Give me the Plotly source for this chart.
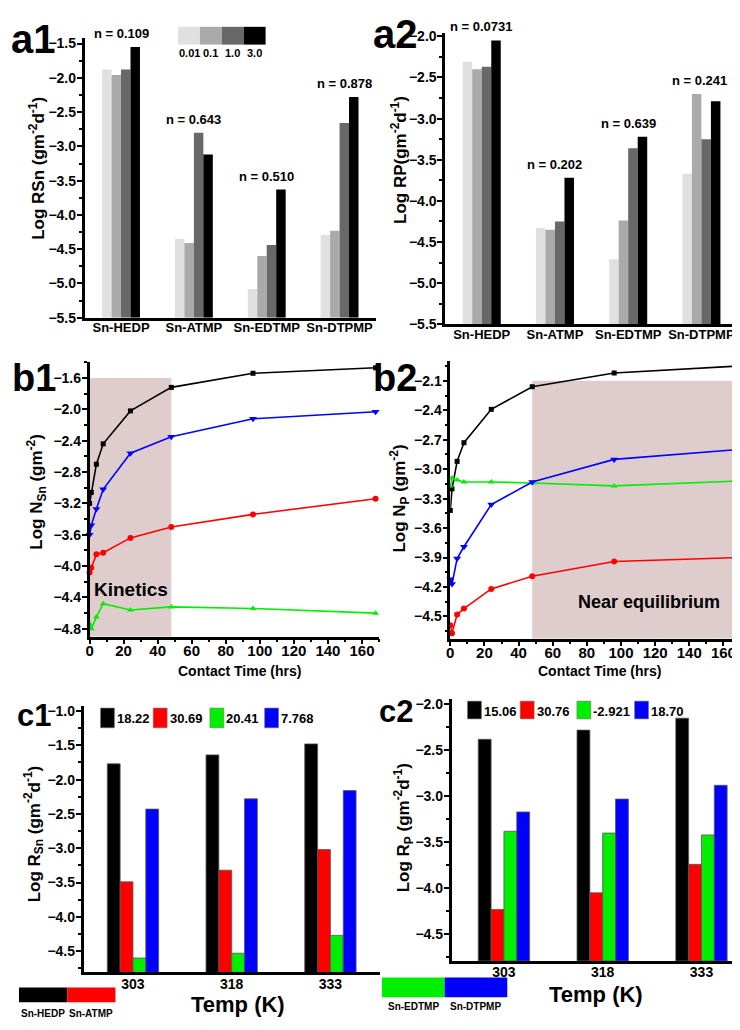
import plotly.graph_objects as go

# The page body has an 8px margin, so the figure is drawn 8px in from the
# top-left corner; reference pixel coordinates are mapped accordingly.
OFF = 8
W, H = 740 - OFF, 1030 - OFF


def px(x):
    return (x - OFF) / W


def py(y):
    return 1 - (y - OFF) / H


FONT = "Liberation Sans Narrow, Liberation Sans, Arial, sans-serif"


def F(size, color="black"):
    return dict(family=FONT, size=size, color=color, weight="bold")


# ---------------- data ----------------
ligands = ["Sn-HEDP", "Sn-ATMP", "Sn-EDTMP", "Sn-DTPMP"]
conc_labels = ["0.01", "0.1", "1.0", "3.0"]
a1_c001 = [-1.88, -4.35, -5.08, -4.29]
a1_c01 = [-1.96, -4.41, -4.60, -4.23]
a1_c1 = [-1.88, -2.80, -4.44, -2.66]
a1_c3 = [-1.55, -3.12, -3.63, -2.28]
a1_n = ["n = 0.109", "n = 0.643", "n = 0.510", "n = 0.878"]
a2_c001 = [-2.31, -4.33, -4.71, -3.67]
a2_c01 = [-2.40, -4.35, -4.24, -2.70]
a2_c1 = [-2.37, -4.25, -3.36, -3.25]
a2_c3 = [-2.05, -3.72, -3.22, -2.79]
a2_n = ["n = 0.0731", "n = 0.202", "n = 0.639", "n = 0.241"]

time_h = [0, 1, 4, 8, 24, 48, 96, 168]
b1_hedp = [-3.20, -3.06, -2.70, -2.44, -2.02, -1.72, -1.54, -1.47]
b1_atmp = [-4.08, -4.02, -3.85, -3.83, -3.64, -3.50, -3.34, -3.14]
b1_edtmp = [-4.74, -4.80, -4.65, -4.48, -4.56, -4.52, -4.54, -4.60]
b1_dtpmp = [-3.60, -3.48, -3.27, -3.02, -2.56, -2.35, -2.12, -2.03]
b2_hedp = [-3.42, -3.20, -2.92, -2.73, -2.39, -2.16, -2.02, -1.95]
b2_atmp = [-4.59, -4.67, -4.48, -4.42, -4.22, -4.09, -3.94, -3.90]
b2_edtmp = [-3.17, -3.09, -3.11, -3.13, -3.13, -3.14, -3.17, -3.12]
b2_dtpmp = [-4.12, -4.17, -3.91, -3.79, -3.36, -3.13, -2.90, -2.80]
kinetic_window = [0, 48]
equil_window = [48, 170]

temps = ["303", "318", "333"]
c1_hedp = [-1.77, -1.64, -1.48]
c1_atmp = [-3.49, -3.32, -3.02]
c1_edtmp = [-4.60, -4.53, -4.27]
c1_dtpmp = [-2.43, -2.28, -2.16]
c1_ea = ["18.22", "30.69", "20.41", "7.768"]
c2_hedp = [-2.38, -2.28, -2.15]
c2_atmp = [-4.23, -4.05, -3.74]
c2_edtmp = [-3.38, -3.40, -3.42]
c2_dtpmp = [-3.17, -3.03, -2.88]
c2_ea = ["15.06", "30.76", "-2.921", "18.70"]

GRAYS = ["#e0e0e0", "#aaaaaa", "#686868", "#000000"]
SERIES_COL = {"hedp": "#000000", "atmp": "#ff0000", "edtmp": "#00ee00", "dtpmp": "#0000ff"}

A_BASE = -5.5
C1_BASE = -4.81
C2_BASE = -4.79

fig = go.Figure()

# ---------- a panels ----------
for xa, ya, series in [
    ("x", "y", [a1_c001, a1_c01, a1_c1, a1_c3]),
    ("x2", "y2", [a2_c001, a2_c01, a2_c1, a2_c3]),
]:
    for vals, col, name in zip(series, GRAYS, conc_labels):
        fig.add_trace(go.Bar(x=ligands, y=[v - A_BASE for v in vals], base=A_BASE,
                             marker=dict(color=col, line=dict(width=0)),
                             name=name, xaxis=xa, yaxis=ya, showlegend=False))


# ---------- b panels ----------
def add_line(t, v, key, sym, size, xa, ya):
    fig.add_trace(go.Scatter(x=t, y=v, mode="lines+markers",
                             line=dict(color=SERIES_COL[key], width=1.6),
                             marker=dict(symbol=sym, size=size, color=SERIES_COL[key]),
                             xaxis=xa, yaxis=ya, showlegend=False, cliponaxis=False))


for (h, a, e, d, xa, ya) in [
    (b1_hedp, b1_atmp, b1_edtmp, b1_dtpmp, "x3", "y3"),
    (b2_hedp, b2_atmp, b2_edtmp, b2_dtpmp, "x4", "y4"),
]:
    add_line(time_h, h, "hedp", "square", 5, xa, ya)
    add_line(time_h, a, "atmp", "circle", 6, xa, ya)
    add_line(time_h, e, "edtmp", "triangle-up", 6, xa, ya)
    add_line(time_h, d, "dtpmp", "triangle-down", 7, xa, ya)

# ---------- c panels ----------
for xa, ya, base, series in [
    ("x5", "y5", C1_BASE, [c1_hedp, c1_atmp, c1_edtmp, c1_dtpmp]),
    ("x6", "y6", C2_BASE, [c2_hedp, c2_atmp, c2_edtmp, c2_dtpmp]),
]:
    for vals, key in zip(series, ["hedp", "atmp", "edtmp", "dtpmp"]):
        fig.add_trace(go.Bar(x=temps, y=[v - base for v in vals], base=base,
                             marker=dict(color=SERIES_COL[key], line=dict(width=0.8, color="#555555")),
                             xaxis=xa, yaxis=ya, showlegend=False))


# ---------- axes ----------
def yax(dom, rng, tick0, dtick, mdtick, anchor):
    return dict(domain=dom, range=rng, tick0=tick0, dtick=dtick, anchor=anchor, tickformat=".1f",
                showgrid=False, zeroline=False,
                showline=True, linewidth=2.5, linecolor="black", ticks="outside", ticklen=5,
                tickwidth=2, tickcolor="black", tickfont=F(14), ticklabelstandoff=-2,
                minor=dict(ticks="outside", ticklen=3, tickwidth=1.5, tickcolor="black",
                           tick0=tick0, dtick=mdtick, showgrid=False))


def xcat(dom, rng, anchor, size, standoff):
    return dict(domain=dom, range=rng, anchor=anchor, type="category", showgrid=False,
                zeroline=False, showline=True, linewidth=2.5, linecolor="black", ticks="",
                ticklen=0, tickfont=F(size), ticklabelstandoff=standoff)


def xlin(dom, rng, anchor):
    return dict(domain=dom, range=rng, anchor=anchor, showgrid=False, zeroline=False,
                showline=True, linewidth=2.5, linecolor="black", ticks="outside", ticklen=5,
                tickwidth=2, tickcolor="black", tick0=0, dtick=20, tickfont=F(15),
                ticklabelstandoff=-6,
                minor=dict(ticks="outside", ticklen=3, tickwidth=1.5, tickcolor="black",
                           dtick=10, showgrid=False))


layout = dict(
    width=W, height=H, autosize=False,
    margin=dict(l=0, r=0, t=0, b=0),
    paper_bgcolor="white", plot_bgcolor="rgba(0,0,0,0)",
    barmode="group", bargap=0.48, bargroupgap=0,
    showlegend=False,
    font=dict(family=FONT, color="black"),
)
layout["xaxis"] = xcat([px(81), px(374)], [-0.5, 3.5], "y", 13, -4)
layout["yaxis"] = yax([py(316.7), py(33.4)], [-5.5, -1.42], -5.5, 0.5, 0.25, "x")
layout["xaxis2"] = xcat([px(443.5), px(738)], [-0.5, 3.5], "y2", 13, -4)
layout["yaxis2"] = yax([py(323.3), py(28.3)], [-5.5, -1.96], -5.5, 0.5, 0.25, "x2")

layout["xaxis3"] = xlin([px(86), px(377)], [0, 170], "y3")
layout["yaxis3"] = yax([py(639.7), py(361.8)], [-4.9, -1.4], -1.6, 0.4, 0.2, "x3")
layout["xaxis4"] = xlin([px(448.7), 1.0], [0, 169.7], "y4")
layout["yaxis4"] = yax([py(641.7), py(360.7)], [-4.726, -1.9], -2.1, 0.3, 0.15, "x4")

layout["xaxis5"] = xcat([px(80), px(377.8)], [-0.5, 2.5], "y5", 14, -3)
layout["yaxis5"] = yax([py(979.8), py(710.1)], [-4.81, -0.93], -1.0, 0.5, 0.25, "x5")
layout["xaxis6"] = xcat([px(450), 1.0], [-0.53, 2.39], "y6", 14, -3)
layout["yaxis6"] = yax([py(968.1), py(702.7)], [-4.79, -1.94], -2.0, 0.5, 0.25, "x6")

fig.update_layout(**layout)

shapes = []
ann = []

# shaded windows in b panels
shapes.append(dict(type="rect", xref="x3", yref="y3", x0=kinetic_window[0], x1=kinetic_window[1],
                   y0=-4.9, y1=-1.6, fillcolor="#dfcdcd", line=dict(width=0), layer="below"))
shapes.append(dict(type="rect", xref="x4", yref="y4", x0=equil_window[0], x1=equil_window[1],
                   y0=-4.726, y1=-2.1, fillcolor="#dfcdcd", line=dict(width=0), layer="below"))

# a1 concentration legend
lx = 175
for i, (col, lab) in enumerate(zip(GRAYS, conc_labels)):
    shapes.append(dict(type="rect", xref="paper", yref="paper", x0=px(lx + 22 * i), x1=px(lx + 22 * (i + 1)),
                       y0=py(40), y1=py(22), fillcolor=col, line=dict(width=0)))
    ann.append(dict(xref="paper", yref="paper", x=px(lx + 11 + 22 * i), y=py(49), text=lab,
                    showarrow=False, font=F(11), xanchor="center", yanchor="middle"))

# n annotations
for xa, ya, labs, series in [("x", "y", a1_n, [a1_c001, a1_c01, a1_c1, a1_c3]),
                             ("x2", "y2", a2_n, [a2_c001, a2_c01, a2_c1, a2_c3])]:
    for i, lab in enumerate(labs):
        top = max(s[i] for s in series)
        xs = 0
        if i == 3:
            xs = 5 if xa == "x" else -2
        ann.append(dict(xref=xa, yref=ya, x=ligands[i], y=top, text=lab, showarrow=False,
                        font=F(13), xanchor="center", yanchor="bottom", yshift=4, xshift=xs))

# panel labels
for txt, x, y, s in [("a1", 30, 34, 40), ("a2", 394, 29, 40), ("b1", 30, 378, 38), ("b2", 393, 378, 38),
                     ("c1", 30, 720, 31), ("c2", 394, 716, 31)]:
    ann.append(dict(xref="paper", yref="paper", x=px(x), y=py(y), text=txt, showarrow=False,
                    font=F(s), xanchor="center", yanchor="middle"))

# axis titles
for txt, x, y in [
    ("Log RSn (gm<sup>-2</sup>d<sup>-1</sup>)", 33, 165),
    ("Log RP(gm<sup>-2</sup>d<sup>-1</sup>)", 397, 157),
    ("Log N<sub>Sn</sub> (gm<sup>-2</sup>)", 33, 493),
    ("Log N<sub>P</sub> (gm<sup>-2</sup>)", 398, 500),
    ("Log R<sub>Sn</sub> (gm<sup>-2</sup>d<sup>-1</sup>)", 30, 840),
    ("Log R<sub>P</sub> (gm<sup>-2</sup>d<sup>-1</sup>)", 402, 833),
]:
    ann.append(dict(xref="paper", yref="paper", x=px(x), y=py(y), text=txt, showarrow=False,
                    textangle=-90, font=F(17), xanchor="center", yanchor="middle"))

for txt, x, y, s in [("Contact Time (hrs)", 237, 674, 14), ("Contact Time (hrs)", 599, 674, 14),
                     ("Temp (K)", 235, 1012, 22), ("Temp (K)", 595, 1002, 22),
                     ("Kinetics", 128, 592, 19), ("Near equilibrium", 648, 605, 18)]:
    ann.append(dict(xref="paper", yref="paper", x=px(x), y=py(y), text=txt, showarrow=False,
                    font=F(s), xanchor="center", yanchor="middle"))

# c legends (activation energies)
keys = ["hedp", "atmp", "edtmp", "dtpmp"]
for labs, xs, ytop, ybot in [(c1_ea, [97, 150, 207, 262], 712, 732), (c2_ea, [466, 519, 576, 634], 705, 723)]:
    for lab, x0, k in zip(labs, xs, keys):
        shapes.append(dict(type="rect", xref="paper", yref="paper", x0=px(x0), x1=px(x0 + 14),
                           y0=py(ybot), y1=py(ytop), fillcolor=SERIES_COL[k], line=dict(width=0.6, color="#777")))
        ann.append(dict(xref="paper", yref="paper", x=px(x0 + 14.5), y=py((ytop + ybot) / 2 + 1), text=lab,
                        showarrow=False, font=F(13), xanchor="left", yanchor="middle"))

# bottom ligand legends
for (names, ks, x0, w, ytop, ybot, ylab) in [
    (["Sn-HEDP", "Sn-ATMP"], ["hedp", "atmp"], 15, 48.5, 995, 1010, 1021),
    (["Sn-EDTMP", "Sn-DTPMP"], ["edtmp", "dtpmp"], 380, 63, 985, 1005, 1014),
]:
    for i, (nm, k) in enumerate(zip(names, ks)):
        shapes.append(dict(type="rect", xref="paper", yref="paper", x0=px(x0 + w * i), x1=px(x0 + w * (i + 1)),
                           y0=py(ybot), y1=py(ytop), fillcolor=SERIES_COL[k], line=dict(width=0)))
        ann.append(dict(xref="paper", yref="paper", x=px(x0 + w * i + w / 2), y=py(ylab), text=nm,
                        showarrow=False, font=F(10), xanchor="center", yanchor="middle"))

fig.update_layout(shapes=shapes, annotations=ann)
fig.write_html("out.html")
